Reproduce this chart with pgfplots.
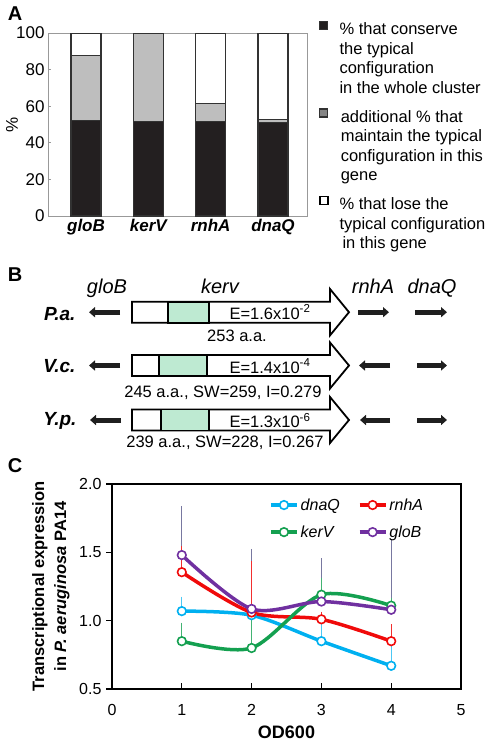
\documentclass[border=0pt]{standalone}
\usepackage{fontspec}
\setmainfont{Liberation Sans}
\usepackage{pgfplots}
\pgfplotsset{compat=1.18}
\usetikzlibrary{arrows.meta}

\definecolor{abar}{RGB}{35,31,32}
\definecolor{agray}{RGB}{190,190,190}
\definecolor{aedge}{RGB}{50,50,50}
\definecolor{mint}{RGB}{190,234,210}
\definecolor{cdnaq}{RGB}{0,176,240}
\definecolor{crnha}{RGB}{240,10,10}
\definecolor{ckerv}{RGB}{20,160,80}
\definecolor{cglob}{RGB}{112,48,160}
\definecolor{cerr}{RGB}{120,120,160}

\newcommand{\ls}{\rule[-5.7bp]{0pt}{19.7bp}}
\newcommand{\lsb}{\rule[-5.7bp]{0pt}{29.2bp}}

\begin{document}
\begin{tikzpicture}
\path[use as bounding box] (0,0) rectangle (489bp,-743bp);

% ---------------- Panel A ----------------
\begin{axis}[
  at={(48bp,-216bp)}, anchor=south west,
  scale only axis, width=259bp, height=183bp,
  xmin=0.39, xmax=4.546, ymin=0, ymax=100,
  ybar stacked, bar width=30bp,
  axis line style={draw=black!40, line width=0.8bp},
  xtick={1,2,3,4}, xticklabels={gloB,kerV,rnhA,dnaQ},
  xtick style={draw=none},
  ytick={0,20,40,60,80,100},
  ytick pos=left, tick align=inside, major tick length=3bp,
  ytick style={draw=black!40, line width=0.8bp},
  tick label style={font=\fontsize{17bp}{20bp}\selectfont},
  xticklabel style={font=\fontsize{17bp}{20bp}\selectfont\bfseries\itshape},
  /pgf/number format/assume math mode=true,
  ylabel={\%},
  ylabel style={at={(axis description cs:-0.139,0.5)}, anchor=center, font=\fontsize{17bp}{20bp}\selectfont},
  legend style={at={(axis description cs:1.046,1.0765)}, anchor=north west,
    draw=none, fill=none, inner sep=0pt, outer sep=0pt,
    row sep=0pt, column sep=9bp,
    cells={anchor=base west, inner sep=0pt},
    font=\fontsize{16.5bp}{19.7bp}\selectfont},
]
\addplot[fill=abar, draw=aedge, line width=1.2bp,
  legend image code/.code={\draw[fill=abar, draw=aedge, line width=1.2bp] (0bp,5.5bp) rectangle (8bp,13.5bp);}]
  coordinates {(1,52.1) (2,51.7) (3,51.5) (4,51.0)};
\addlegendentry{\ls\% that conserve}
\addlegendimage{empty legend}\addlegendentry{\ls the typical}
\addlegendimage{empty legend}\addlegendentry{\ls configuration}
\addlegendimage{empty legend}\addlegendentry{\ls in the whole cluster}
\addplot[fill=agray, draw=aedge, line width=1.2bp,
  legend image code/.code={\draw[fill=agray!70!black, draw=aedge, line width=1.2bp] (0bp,5.5bp) rectangle (8bp,13.5bp);}]
  coordinates {(1,35.6) (2,48.3) (3,10.1) (4,1.7)};
\addlegendentry{\lsb\hspace{1.3bp}additional \% that}
\addlegendimage{empty legend}\addlegendentry{\ls\hspace{1.3bp}maintain the typical}
\addlegendimage{empty legend}\addlegendentry{\ls\hspace{1.3bp}configuration in this}
\addlegendimage{empty legend}\addlegendentry{\ls\hspace{1.3bp}gene}
\addplot[fill=white, draw=aedge, line width=1.2bp,
  legend image code/.code={\draw[fill=white, draw=black, line width=1.6bp] (0bp,5.5bp) rectangle (8bp,13.5bp);}]
  coordinates {(1,12.3) (2,0) (3,38.4) (4,47.3)};
\addlegendentry{\lsb\% that lose the}
\addlegendimage{empty legend}\addlegendentry{\ls typical configuration}
\addlegendimage{empty legend}\addlegendentry{\ls\hspace{3bp}in this gene}
\end{axis}

% ---------------- Panel B (schematic) ----------------
\begin{scope}[x=1bp, y=-1bp]
  \tikzset{panlab/.style={font=\fontsize{20bp}{24bp}\selectfont\bfseries, anchor=base}}
  \node[panlab] at (15,20.5) {A};
  \node[panlab] at (15,281) {B};
  \node[panlab] at (15,472) {C};

  \tikzset{gene/.style={font=\fontsize{20bp}{24bp}\selectfont\itshape, anchor=base},
           org/.style={font=\fontsize{19bp}{22bp}\selectfont\bfseries\itshape, anchor=base east},
           small/.style={font=\fontsize{16.5bp}{20bp}\selectfont, anchor=base},
           garrow/.style={line width=5bp, draw=black!88, -{Triangle[length=6bp,width=10bp]}},
           box/.style={line width=1.8bp, draw=black}}
  \node[gene] at (107,293) {gloB};
  \node[gene] at (220,293) {kerv};
  \node[gene] at (373,293) {rnhA};
  \node[gene] at (432,293) {dnaQ};

  % P.a.
  \node[org] at (79,320) {P.a.};
  \draw[garrow] (120,312.2) -- (89,312.2);
  \draw[box, fill=white] (132,301.7) -- (330,301.7) -- (330,289) -- (349,312.2) -- (330,335.4) -- (330,322.7) -- (132,322.7) -- cycle;
  \draw[box, fill=mint] (168,301.7) rectangle (209,322.7);
  \node[small] at (270,319) {E=1.6x10\textsuperscript{-2}};
  \node[small] at (237,341) {253 a.a.};
  \draw[garrow] (358,312.2) -- (389,312.2);
  \draw[garrow] (415,312.2) -- (447,312.2);

  % V.c.
  \node[org] at (79,372) {V.c.};
  \draw[garrow] (120,365.5) -- (89,365.5);
  \draw[box, fill=white] (132,355) -- (330,355) -- (330,342.5) -- (349,365.5) -- (330,388.5) -- (330,376) -- (132,376) -- cycle;
  \draw[box, fill=mint] (159,355) rectangle (207,376);
  \node[small] at (270,373) {E=1.4x10\textsuperscript{-4}};
  \node[small] at (223,397) {245 a.a., SW=259, I=0.279};
  \draw[garrow] (390,365.5) -- (359,365.5);
  \draw[garrow] (417,365.5) -- (447,365.5);

  % Y.p.
  \node[org] at (80,425) {Y.p.};
  \draw[garrow] (121,420) -- (90,420);
  \draw[box, fill=white] (132,409.5) -- (330,409.5) -- (330,397) -- (349,420) -- (330,443) -- (330,430.5) -- (132,430.5) -- cycle;
  \draw[box, fill=mint] (161,409.5) rectangle (209,430.5);
  \node[small] at (270,427.5) {E=1.3x10\textsuperscript{-6}};
  \node[small] at (225,447.5) {239 a.a., SW=228, I=0.267};
  \draw[garrow] (390,420) -- (360,420);
  \draw[garrow] (417,420) -- (447,420);
\end{scope}

% ---------------- Panel C ----------------
\begin{axis}[
  at={(112bp,-689bp)}, anchor=south west,
  scale only axis, width=349bp, height=205bp,
  xmin=0, xmax=5, ymin=0.5, ymax=2,
  xtick={0,1,2,3,4,5}, ytick={0.5,1,1.5,2},
  axis line style={line width=1.2bp},
  tick style={line width=1.2bp, black},
  major tick length=6bp,
  xtick pos=bottom, ytick pos=left, tick align=inside,
  ytick style={xshift=-6bp},
  tick label style={font=\fontsize{16bp}{19bp}\selectfont},
  xticklabel style={yshift=-12bp},
  yticklabel style={xshift=-7bp, /pgf/number format/.cd, fixed, fixed zerofill, precision=1},
  /pgf/number format/assume math mode=true,
  xlabel={OD600},
  xlabel style={font=\fontsize{18bp}{21bp}\selectfont\bfseries, at={(axis description cs:0.5,-0.21)}, anchor=center},
  ylabel={Transcriptional expression\\in \textit{P. aeruginosa} PA14},
  ylabel style={font=\fontsize{16.5bp}{22bp}\selectfont\bfseries, align=center, at={(axis description cs:-0.175,0.5)}, anchor=center},
  legend columns=2, legend cell align=left,
  legend style={at={(axis description cs:0.450,0.94)}, anchor=north west, draw=none, fill=none,
    inner sep=0pt, font=\fontsize{16bp}{19bp}\selectfont\itshape, row sep=10bp,
    /tikz/every even column/.append style={column sep=16bp}},
  legend image code/.code={\draw[mark repeat=2,mark phase=2,#1] plot coordinates {(0bp,0bp) (13bp,0bp) (26bp,0bp)};},
]
% error bars (drawn first, behind the curves)
\addplot[forget plot, draw=none, error bars/.cd, y dir=plus, y explicit,
  error bar style={draw=cerr, line width=1.1bp}, error mark options={draw=cerr, line width=1.1bp, mark size=3.5bp}]
  coordinates {(1,1.48) +- (0,0.33) (2,1.086) +- (0,0.414) (3,1.14) +- (0,0.29) (4,1.08) +- (0,0.49)};
\addplot[forget plot, draw=none, error bars/.cd, y dir=plus, y explicit,
  error bar style={draw=cdnaq!70, line width=1.1bp}, error mark options={draw=cdnaq!70, line width=1.1bp, mark size=3.5bp}]
  coordinates {(1,1.07) +- (0,0.08) (2,1.04) +- (0,0.02) (3,0.85) +- (0,0.15) (4,0.67) +- (0,0.17)};
\addplot[forget plot, draw=none, error bars/.cd, y dir=plus, y explicit,
  error bar style={draw=crnha!85, line width=1.1bp}, error mark options={draw=crnha!85, line width=1.1bp, mark size=3.5bp}]
  coordinates {(1,1.355) +- (0,0.165) (2,1.06) +- (0,0.35) (3,1.01) +- (0,0.03) (4,0.85) +- (0,0.10)};
\addplot[forget plot, draw=none, error bars/.cd, y dir=plus, y explicit,
  error bar style={draw=ckerv!80, line width=1.1bp}, error mark options={draw=ckerv!80, line width=1.1bp, mark size=3.5bp}]
  coordinates {(1,0.85) +- (0,0.11) (2,0.80) +- (0,0.19) (3,1.19) +- (0,0.10) (4,1.11) +- (0,0.03)};

% curves
\addplot[cdnaq, line width=3.5bp, smooth, mark=*, mark size=4.3bp, mark options={solid, fill=white, draw=cdnaq, line width=1.6bp}]
  coordinates {(1,1.07) (2,1.04) (3,0.85) (4,0.67)};
\addlegendentry{dnaQ}
\addplot[crnha, line width=3.5bp, smooth, mark=*, mark size=4.3bp, mark options={solid, fill=white, draw=crnha, line width=1.6bp}]
  coordinates {(1,1.355) (2,1.06) (3,1.01) (4,0.85)};
\addlegendentry{rnhA}
\addplot[ckerv, line width=3.5bp, smooth, mark=*, mark size=4.3bp, mark options={solid, fill=white, draw=ckerv, line width=1.6bp}]
  coordinates {(1,0.85) (2,0.80) (3,1.19) (4,1.11)};
\addlegendentry{kerV}
\addplot[cglob, line width=3.5bp, smooth, mark=*, mark size=4.3bp, mark options={solid, fill=white, draw=cglob, line width=1.6bp}]
  coordinates {(1,1.48) (2,1.086) (3,1.14) (4,1.08)};
\addlegendentry{gloB}
\end{axis}
\end{tikzpicture}
\end{document}
